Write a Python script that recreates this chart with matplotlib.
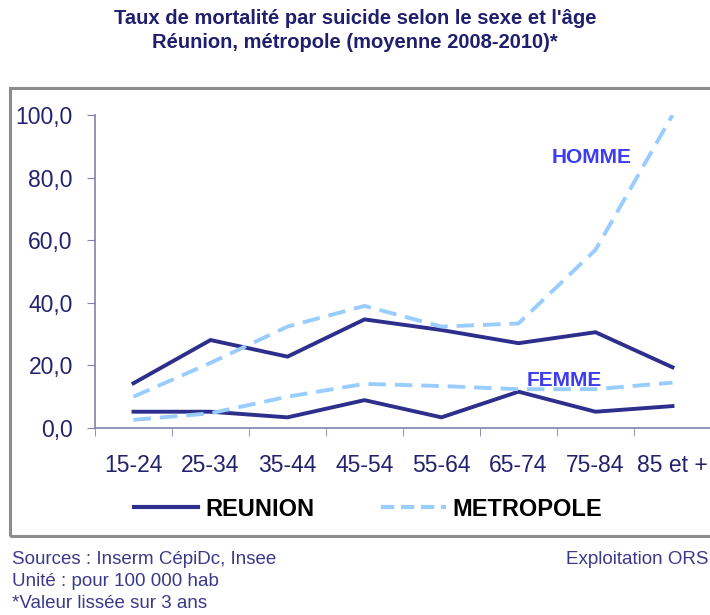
import matplotlib
matplotlib.use("Agg")
from matplotlib import pyplot as plt
from matplotlib.patches import Rectangle
from matplotlib.lines import Line2D
import numpy as np

plt.rcParams['font.family'] = ['Liberation Sans', 'DejaVu Sans']

# data
ages = ["15-24", "25-34", "35-44", "45-54", "55-64", "65-74", "75-84", "85 et +"]
reunion_homme = [14.3, 28.1, 22.8, 34.7, 31.3, 27.1, 30.6, 19.4]
reunion_femme = [5.2, 5.2, 3.4, 8.9, 3.4, 11.6, 5.2, 7.0]
metro_homme = [10.0, 20.8, 32.4, 39.0, 32.4, 33.4, 56.9, 100.0]
metro_femme = [2.6, 4.7, 10.0, 14.1, 13.4, 12.4, 12.4, 14.5]
yticks = [0, 20, 40, 60, 80, 100]

navy = "#2e2e8c"
light = "#99ccff"
txt = "#22226e"

W, H = 710, 615
fig = plt.figure(figsize=(W / 100, H / 100), dpi=100)

# outer frame of the chart area
fig.patches.append(Rectangle((10 / W, 1 - 536 / H), 720 / W, 448 / H,
                             transform=fig.transFigure, fill=False,
                             edgecolor="#8c8c8c", linewidth=2.2, clip_on=False))

ax = fig.add_axes([95 / W, 1 - 428 / H, 616 / W, 313 / H])
x = np.arange(len(ages))

ax.plot(x, reunion_homme, color=navy, lw=2.8, solid_joinstyle="miter")
ax.plot(x, reunion_femme, color=navy, lw=2.8, solid_joinstyle="miter")
ax.plot(x, metro_homme, color=light, lw=2.8, dashes=(4.5, 2.3))
ax.plot(x, metro_femme, color=light, lw=2.8, dashes=(4.5, 2.3))

ax.set_xlim(-0.5, len(ages) - 0.5)
ax.set_ylim(0, 100)
ax.set_yticks(yticks)
ax.set_yticklabels([("%.1f" % v).replace(".", ",") for v in yticks])
ax.set_xticks(x)
ax.set_xticklabels(ages)
ax.set_xticks(np.arange(-0.5, len(ages), 1.0), minor=True)
ax.tick_params(axis="x", which="major", length=0, pad=19, labelsize=16.5, labelcolor=txt)
ax.tick_params(axis="x", which="minor", length=6, color="#8080b0", direction="out")
ax.tick_params(axis="y", length=6, color="#8080b0", labelsize=16.5, labelcolor=txt, pad=10)
for s in ["top", "right"]:
    ax.spines[s].set_visible(False)
for s in ["left", "bottom"]:
    ax.spines[s].set_color("#8080b0")
    ax.spines[s].set_linewidth(1.2)

ax.text(5.43, 86.3, "HOMME", color="#3c3cf0", fontsize=15, fontweight="bold", va="center")
ax.text(5.11, 15.3, "FEMME", color="#3c3cf0", fontsize=15, fontweight="bold", va="center")

fig.text(0.5, 1 - 18 / H, "Taux de mortalité par suicide selon le sexe et l'âge",
         ha="center", va="center", fontsize=14.5, fontweight="bold", color="#1f1f6e")
fig.text(0.5, 1 - 42 / H, "Réunion, métropole (moyenne 2008-2010)*",
         ha="center", va="center", fontsize=14.5, fontweight="bold", color="#1f1f6e")

handles = [Line2D([], [], color=navy, lw=3),
           Line2D([], [], color=light, lw=3, dashes=(3.2, 1.6))]
fig.legend(handles, ["REUNION", "METROPOLE"], loc="center",
           bbox_to_anchor=(368 / W, 1 - 509 / H), ncol=2, frameon=False,
           prop={"size": 17, "weight": "bold"}, handlelength=2.75,
           handletextpad=0.3, columnspacing=2.8)

foot = "#3a3a8a"
fig.text(12 / W, 1 - 559 / H, "Sources : Inserm CépiDc, Insee", fontsize=13.5, color=foot, va="center")
fig.text(12 / W, 1 - 582 / H, "Unité : pour 100 000 hab", fontsize=13.5, color=foot, va="center")
fig.text(12 / W, 1 - 604 / H, "*Valeur lissée sur 3 ans", fontsize=13.5, color=foot, va="center")
fig.text(709 / W, 1 - 559 / H, "Exploitation ORS", fontsize=13.5, color=foot, va="center", ha="right")

fig.savefig("out.png", dpi=100)
